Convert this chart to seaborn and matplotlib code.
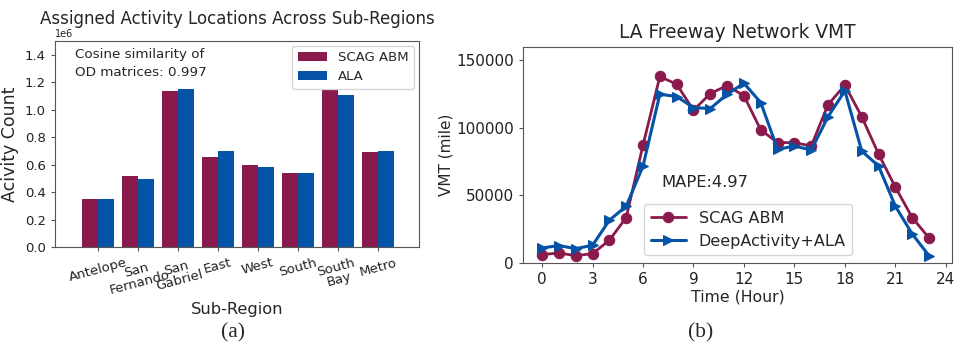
import numpy as np
import pandas as pd
import matplotlib
matplotlib.use('Agg')
import matplotlib.pyplot as plt
import seaborn as sns

# ---- data ----
regions = ['Antelope', 'San\nFernando', 'San\nGabriel', 'East', 'West', 'South', 'South\nBay', 'Metro']
scag_counts = [0.346e6, 0.514e6, 1.137e6, 0.657e6, 0.594e6, 0.536e6, 1.144e6, 0.689e6]
ala_counts = [0.351e6, 0.497e6, 1.149e6, 0.701e6, 0.582e6, 0.541e6, 1.108e6, 0.701e6]

hours = list(range(24))
scag_vmt = [6200, 7400, 5400, 6900, 16800, 33600, 87200, 137900, 132200, 112900, 125300, 131200,
            123600, 98400, 89000, 89000, 86500, 117100, 131500, 108200, 80600, 56100, 33600, 18500]
deep_vmt = [11100, 12900, 10600, 13100, 31600, 42000, 71700, 124800, 123100, 114900, 114200, 124800,
            132900, 118600, 84000, 86500, 83500, 108200, 127300, 82800, 71700, 42000, 21500, 5400]

maroon = '#8a1a4b'
blue = '#0453a6'

sns.set_style('ticks')
plt.rcParams['font.family'] = ['DejaVu Sans']
plt.rcParams['axes.edgecolor'] = '#555555'
plt.rcParams['xtick.color'] = '#555555'
plt.rcParams['ytick.color'] = '#555555'
plt.rcParams['xtick.labelcolor'] = '#222222'
plt.rcParams['ytick.labelcolor'] = '#222222'

fig = plt.figure(figsize=(9.7, 3.44), dpi=100)
ax1 = fig.add_axes([0.0567, 0.282, 0.3753, 0.599])
ax2 = fig.add_axes([0.5389, 0.2355, 0.4426, 0.629])

# ---- (a) bar chart ----
bars = pd.DataFrame({
    'region': regions * 2,
    'count': scag_counts + ala_counts,
    'source': ['SCAG ABM'] * len(regions) + ['ALA'] * len(regions),
})
sns.barplot(data=bars, x='region', y='count', hue='source', order=regions,
            hue_order=['SCAG ABM', 'ALA'], palette=[maroon, blue],
            width=0.8, saturation=1, errorbar=None, linewidth=0, ax=ax1)
ax1.set_xlim(-1.07, 8.03)
ax1.set_ylim(0, 1.5e6)
ax1.set_yticks(np.arange(0, 1.41e6, 0.2e6))
ax1.ticklabel_format(axis='y', style='sci', scilimits=(6, 6))
ax1.yaxis.get_offset_text().set_fontsize(7)
ax1.tick_params(axis='both', labelsize=9.5, length=3)
plt.setp(ax1.get_xticklabels(), rotation=15, linespacing=0.95)
ax1.set_xlabel('Sub-Region', fontsize=11.7)
ax1.set_ylabel('Acivity Count', fontsize=12.5)
ax1.set_title('Assigned Activity Locations Across Sub-Regions', fontsize=12, pad=12)
ax1.text(0.055, 0.965, 'Cosine similarity of\nOD matrices: 0.997', transform=ax1.transAxes,
         fontsize=9.7, va='top', ha='left', linespacing=1.5)
ax1.legend(loc='upper right', fontsize=9.5, handlelength=2.2, borderpad=0.45,
           borderaxespad=0.35, labelspacing=0.4)
for s in ax1.spines.values():
    s.set_visible(True)

# ---- (b) line chart ----
sns.lineplot(x=hours, y=scag_vmt, color=maroon, marker='o', markersize=7.5, linewidth=2,
             markeredgecolor=maroon, label='SCAG ABM', ax=ax2)
sns.lineplot(x=hours, y=deep_vmt, color=blue, marker='>', markersize=7.5, linewidth=2.2,
             markeredgecolor=blue, label='DeepActivity+ALA', ax=ax2)
ax2.set_xlim(-1.15, 24.37)
ax2.set_ylim(0, 160000)
ax2.set_xticks(range(0, 25, 3))
ax2.set_yticks([0, 50000, 100000, 150000])
ax2.tick_params(axis='both', labelsize=11, length=3)
ax2.set_xlabel('Time (Hour)', fontsize=11.3, labelpad=2)
ax2.set_ylabel('VMT (mile)', fontsize=11, labelpad=2)
ax2.set_title('LA Freeway Network VMT', fontsize=13.4, pad=6)
ax2.text(0.323, 0.374, 'MAPE:4.97', transform=ax2.transAxes, fontsize=11.8, va='center', ha='left')
ax2.legend(loc='lower left', bbox_to_anchor=(0.265, 0.0), fontsize=11.5, handlelength=2.2)
for s in ax2.spines.values():
    s.set_visible(True)

fig.text(0.240, 0.02, '(a)', fontsize=15.5, family=['Liberation Serif', 'DejaVu Serif'], ha='center')
fig.text(0.722, 0.02, '(b)', fontsize=15.5, family=['Liberation Serif', 'DejaVu Serif'], ha='center')

fig.savefig('out.png', dpi=100)
